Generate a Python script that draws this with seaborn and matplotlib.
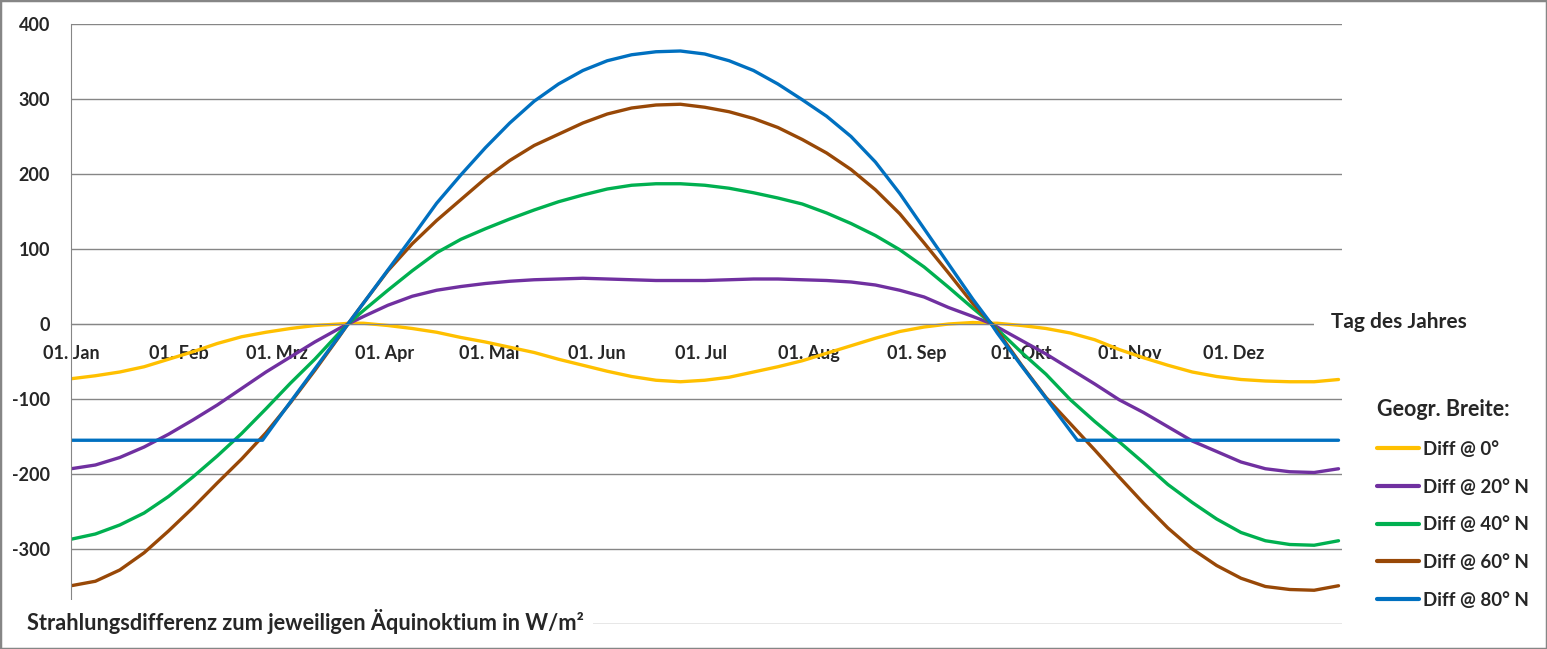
import pandas as pd
import matplotlib
matplotlib.use("Agg")
import matplotlib.pyplot as plt
import seaborn as sns
from matplotlib.patches import Rectangle

# Tag des Jahres und Strahlungsdifferenz in W/m²
tage = [1, 8, 15, 22, 29, 36, 43, 50, 57, 64, 71, 78, 81,
        85, 92, 99, 106, 113, 120, 127, 134, 141, 148, 155, 162, 169, 176, 183, 190,
        197, 204, 211, 218, 225, 232, 239, 246, 253, 260, 265,
        267, 274, 281, 288, 295, 302, 309, 316, 323, 330, 337, 344, 351, 358, 365]

diff_0 = [-73, -69, -64, -57, -47, -37, -26, -17, -11, -6, -2, 0, 1,
          1, -2, -6, -11, -18, -24, -31, -38, -47, -55, -63, -70, -75, -77, -75, -71,
          -64, -57, -49, -39, -29, -19, -10, -4, 0, 2, 1,
          1, -2, -6, -12, -21, -34, -45, -55, -64, -70, -74, -76, -77, -77, -74]
diff_20 = [-193, -188, -178, -164, -147, -128, -108, -86, -64, -44, -24, -6, 1,
           10, 25, 37, 45, 50, 54, 57, 59, 60, 61, 60, 59, 58, 58, 58, 59,
           60, 60, 59, 58, 56, 52, 45, 36, 22, 10, 1,
           -4, -22, -40, -60, -80, -101, -118, -137, -156, -170, -184, -193, -197, -198, -193]
diff_40 = [-287, -280, -268, -252, -230, -204, -176, -146, -113, -79, -47, -12, 2,
           18, 45, 71, 95, 113, 127, 140, 152, 163, 172, 180, 185, 187, 187, 185, 181,
           175, 168, 160, 148, 134, 118, 99, 76, 49, 21, 2,
           -7, -38, -67, -101, -130, -157, -185, -214, -238, -260, -278, -289, -294, -295, -289]
diff_60 = [-349, -343, -328, -305, -276, -245, -212, -180, -145, -105, -62, -17, 3,
           28, 71, 107, 138, 166, 194, 218, 238, 253, 268, 280, 288, 292, 293, 289, 283,
           274, 262, 246, 228, 206, 179, 147, 108, 68, 27, 2,
           -9, -55, -98, -133, -168, -204, -239, -272, -300, -322, -339, -350, -354, -355, -349]

tage_80 = [1, 56, 64, 71, 78, 81, 85, 92, 99, 106, 113, 120, 127, 134, 141, 148, 155,
           162, 169, 176, 183, 190, 197, 204, 211, 218, 225, 232, 239, 246, 253, 260,
           265, 267, 274, 281, 290, 365]
diff_80 = [-155, -155, -104, -60, -16, 3, 28, 72, 116, 161, 199, 235, 268, 297, 320, 338, 351,
           359, 363, 364, 360, 351, 338, 320, 299, 277, 250, 216, 174, 127, 80, 33,
           2, -12, -56, -99, -155, -155]

serien = ["Diff @ 0°", "Diff @ 20° N", "Diff @ 40° N", "Diff @ 60° N", "Diff @ 80° N"]
farben = ["#FFC000", "#7030A0", "#00B050", "#984807", "#0070C0"]

monat_tage = [1, 32, 60, 91, 121, 152, 182, 213, 244, 274, 305, 335]
monat_labels = ["01. Jan", "01. Feb", "01. Mrz", "01. Apr", "01. Mai", "01. Jun",
                "01. Jul", "01. Aug", "01. Sep", "01. Okt", "01. Nov", "01. Dez"]

teile = []
for name, x, y in zip(serien, [tage, tage, tage, tage, tage_80],
                      [diff_0, diff_20, diff_40, diff_60, diff_80]):
    teile.append(pd.DataFrame({"Tag": x, "Diff": y, "Serie": name}))
df = pd.concat(teile, ignore_index=True)

sns.set_style("white")
plt.rcParams["font.family"] = ["Lato", "DejaVu Sans"]
plt.rcParams["font.weight"] = "bold"
plt.rcParams["axes.unicode_minus"] = False

grau = "#868686"
W, H = 1547, 649
fig = plt.figure(figsize=(W / 100, H / 100), dpi=100)
ax = fig.add_axes([71 / W, 25 / H, (1342 - 71) / W, 600 / H])

sns.lineplot(data=df, x="Tag", y="Diff", hue="Serie", hue_order=serien, palette=farben,
             linewidth=2.4, estimator=None, errorbar=None, ax=ax)

ax.set_xlim(1, 366)
ax.set_ylim(-400, 400)
yticks = list(range(-400, 401, 100))
ax.set_yticks(yticks)
ax.set_yticklabels(["" if v == -400 else str(v) for v in yticks])
ax.set_xticks(monat_tage)
ax.set_xticklabels(monat_labels)
ax.set_xlabel("")
ax.set_ylabel("")
ax.yaxis.grid(True, color=grau, lw=1)
ax.set_axisbelow(True)

for s in ["top", "right"]:
    ax.spines[s].set_visible(False)
ax.spines["left"].set_color(grau)
ax.spines["bottom"].set_color(grau)
ax.spines["bottom"].set_position(("data", 0))
ax.tick_params(axis="y", length=6, color=grau, width=1, labelsize=13, pad=9)
ax.tick_params(axis="x", length=5, color=grau, width=1, labelsize=13, pad=10, direction="out")

sns.move_legend(ax, "upper left", bbox_to_anchor=(1377 / W, 1 - 441 / H),
                bbox_transform=fig.transFigure, title=None, frameon=False,
                fontsize=13.5, handlelength=2.25, handletextpad=0.2,
                labelspacing=1.1, borderpad=0, borderaxespad=0)
for line in ax.get_legend().get_lines():
    line.set_linewidth(3)

fig.text(1377 / W, 1 - 409 / H, "Geogr. Breite:", ha="left", va="center", fontsize=15.5,
         fontweight="bold")
fig.text(1331 / W, 1 - 322 / H, "Tag des Jahres", ha="left", va="center", fontsize=15,
         fontweight="bold", bbox=dict(facecolor="white", edgecolor="none", boxstyle="square,pad=0.8"))
fig.text(27 / W, 1 - 621 / H, "Strahlungsdifferenz zum jeweiligen Äquinoktium in W/m²",
         ha="left", va="center", fontsize=15.7, fontweight="bold",
         bbox=dict(facecolor="white", edgecolor="none", boxstyle="square,pad=0.4"))

fig.patches.append(Rectangle((0, 0), 1, 1, transform=fig.transFigure, fill=False,
                             edgecolor=grau, lw=2.5))

fig.savefig("out.png", dpi=100)
